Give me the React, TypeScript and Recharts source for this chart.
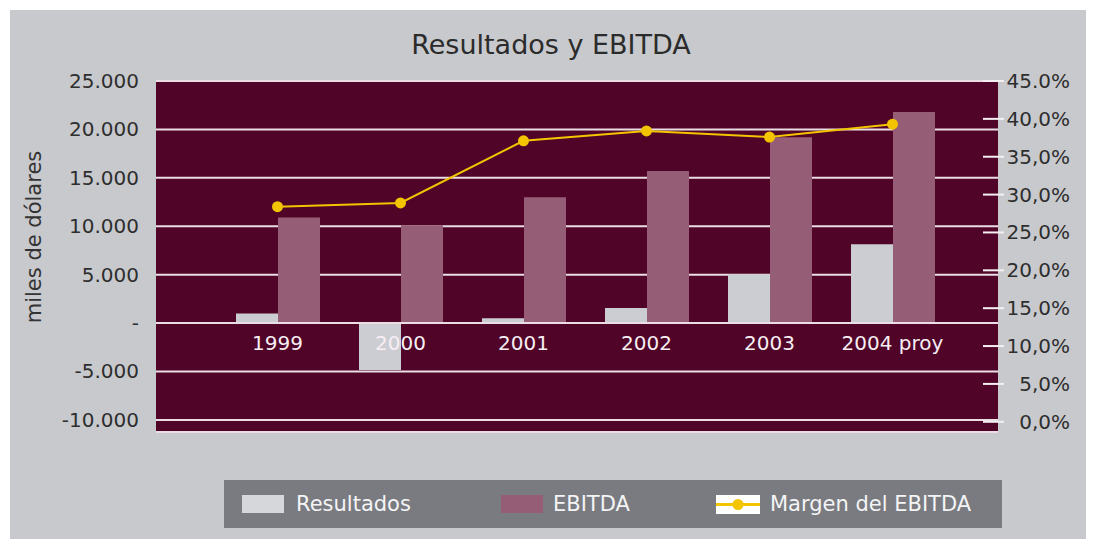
import {
  ComposedChart,
  Bar,
  Line,
  XAxis,
  YAxis,
  CartesianGrid,
  ReferenceLine,
} from "recharts";

const years = ["1999", "2000", "2001", "2002", "2003", "2004 proy"];
const resultados = [1000, -4850, 500, 1550, 5050, 8150];
const ebitda = [10900, 10100, 13000, 15700, 19200, 21800];
const margen = [28.4, 28.9, 37.1, 38.4, 37.6, 39.3];

const leftTicks = [-10000, -5000, 0, 5000, 10000, 15000, 20000, 25000];
const leftTickLabels = ["-10.000", "-5.000", "-", "5.000", "10.000", "15.000", "20.000", "25.000"];
const rightTicks = [0, 5, 10, 15, 20, 25, 30, 35, 40, 45];
const rightTickLabels = ["0,0%", "5,0%", "10,0%", "15,0%", "20,0%", "25,0%", "30,0%", "35,0%", "40,0%", "45.0%"];

const seriesNames = ["Resultados", "EBITDA", "Margen del EBITDA"];

const data = years.map((year, i) => ({
  year,
  resultados: resultados[i],
  ebitda: ebitda[i],
  margen: margen[i],
}));

const FONT = "'DejaVu Sans', Verdana, sans-serif";
const PLOT_BG = "#500428";
const GRID = "#eadde3";
const GRAY_BAR = "#cccdd2";
const EBITDA_BAR = "#965d76";
const YELLOW = "#f2c500";

const LeftTick = (props: any) => {
  const { x, y, payload } = props;
  const idx = leftTicks.indexOf(payload.value);
  return (
    <text x={x} y={y} dy={7} textAnchor="end" fill="#2e2e2e" fontSize={20} fontFamily={FONT}>
      {leftTickLabels[idx]}
    </text>
  );
};

const RightTick = (props: any) => {
  const { x, y, payload } = props;
  const idx = rightTicks.indexOf(payload.value);
  return (
    <g>
      <line x1={x - 15} x2={x + 6} y1={y} y2={y} stroke="#f4f0f2" strokeWidth={2} />
      <text x={x + 72} y={y} dy={7} textAnchor="end" fill="#2e2e2e" fontSize={20} fontFamily={FONT}>
        {rightTickLabels[idx]}
      </text>
    </g>
  );
};

const YearTick = (props: any) => {
  const { x, y, payload } = props;
  return (
    <text x={x} y={y - 82} textAnchor="middle" fill="#f6eef2" fontSize={20} fontFamily={FONT}>
      {payload.value}
    </text>
  );
};

const Swatch = ({ color }: { color: string }) => (
  <div style={{ width: 42, height: 18, background: color }} />
);

const LineSwatch = () => (
  <svg width={44} height={19} style={{ display: "block" }}>
    <rect x={0} y={0} width={44} height={19} fill="#ffffff" />
    <line x1={0} x2={44} y1={9.5} y2={9.5} stroke={YELLOW} strokeWidth={3} />
    <circle cx={22} cy={9.5} r={5.5} fill={YELLOW} />
  </svg>
);

export default function App() {
  return (
    <div
      style={{
        position: "relative",
        left: 2,
        top: 2,
        width: 1092,
        height: 537,
        background: "#c8c9cd",
        fontFamily: FONT,
      }}
    >
      <div
        style={{
          position: "absolute",
          left: 0,
          width: 1082,
          top: 19,
          textAlign: "center",
          fontSize: 27,
          color: "#2b2b2b",
        }}
      >
        Resultados y EBITDA
      </div>

      <div
        style={{
          position: "absolute",
          left: 24,
          top: 227,
          transform: "translate(-50%, -50%) rotate(-90deg)",
          whiteSpace: "nowrap",
          fontSize: 21,
          color: "#333",
        }}
      >
        miles de dólares
      </div>

      <ComposedChart
        width={1084}
        height={529}
        data={data}
        margin={{ top: 71, right: 0, left: 0, bottom: 77 }}
        barGap={0}
        style={{ position: "absolute", left: 0, top: 0 }}
      >
        <CartesianGrid
          vertical={false}
          fill={PLOT_BG}
          fillOpacity={1}
          stroke={GRID}
          strokeWidth={2}
          yAxisId="left"
        />
        <YAxis
          yAxisId="left"
          orientation="left"
          width={146}
          domain={[-11250, 25000]}
          ticks={leftTicks}
          allowDataOverflow
          axisLine={false}
          tickLine={false}
          tickSize={0}
          tickMargin={17}
          tick={<LeftTick />}
          interval={0}
        />
        <YAxis
          yAxisId="right"
          orientation="right"
          width={96}
          domain={[-1.35, 45]}
          ticks={rightTicks}
          allowDataOverflow
          axisLine={false}
          tickLine={false}
          tickSize={0}
          tickMargin={0}
          tick={<RightTick />}
          interval={0}
        />
        <Bar
          yAxisId="left"
          dataKey="resultados"
          name={seriesNames[0]}
          fill={GRAY_BAR}
          barSize={42}
          isAnimationActive={false}
        />
        <Bar
          yAxisId="left"
          dataKey="ebitda"
          name={seriesNames[1]}
          fill={EBITDA_BAR}
          barSize={42}
          isAnimationActive={false}
        />
        <ReferenceLine yAxisId="left" y={0} stroke={GRID} strokeWidth={2} />
        <Line
          yAxisId="right"
          dataKey="margen"
          name={seriesNames[2]}
          type="linear"
          stroke={YELLOW}
          strokeWidth={2}
          dot={{ r: 5.5, fill: YELLOW, stroke: YELLOW, strokeWidth: 0 }}
          isAnimationActive={false}
        />
        <XAxis
          dataKey="year"
          height={30}
          padding={{ left: 60, right: 44 }}
          axisLine={false}
          tickLine={false}
          tickSize={0}
          tickMargin={0}
          tick={<YearTick />}
          interval={0}
        />
      </ComposedChart>

      <div
        style={{
          position: "absolute",
          left: 214,
          top: 470,
          width: 778,
          height: 48,
          background: "#797b80",
          display: "flex",
          alignItems: "center",
          color: "#f4f4f6",
          fontSize: 21,
        }}
      >
        <div style={{ position: "absolute", left: 18, display: "flex", alignItems: "center" }}>
          <Swatch color="#d6d7db" />
          <span style={{ marginLeft: 12 }}>{seriesNames[0]}</span>
        </div>
        <div style={{ position: "absolute", left: 277, display: "flex", alignItems: "center" }}>
          <Swatch color={EBITDA_BAR} />
          <span style={{ marginLeft: 10 }}>{seriesNames[1]}</span>
        </div>
        <div style={{ position: "absolute", left: 492, display: "flex", alignItems: "center" }}>
          <LineSwatch />
          <span style={{ marginLeft: 10 }}>{seriesNames[2]}</span>
        </div>
      </div>
    </div>
  );
}
